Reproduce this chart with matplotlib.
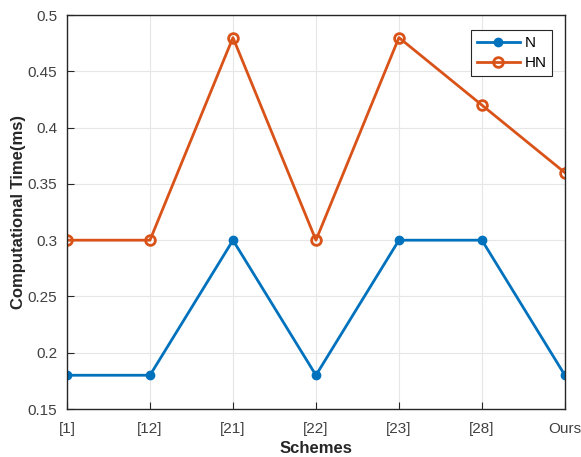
import matplotlib
matplotlib.use("Agg")
import matplotlib.pyplot as plt

categories = ["[1]", "[12]", "[21]", "[22]", "[23]", "[28]", "Ours"]
n_values = [0.18, 0.18, 0.30, 0.18, 0.30, 0.30, 0.18]
hn_values = [0.30, 0.30, 0.48, 0.30, 0.48, 0.42, 0.36]
yticks = [0.15, 0.2, 0.25, 0.3, 0.35, 0.4, 0.45, 0.5]
ytick_labels = ["0.15", "0.2", "0.25", "0.3", "0.35", "0.4", "0.45", "0.5"]

plt.rcParams['font.family'] = ['Liberation Sans', 'DejaVu Sans']

fig = plt.figure(figsize=(5.81, 4.57), dpi=100)
ax = fig.add_axes([0.1153, 0.105, 0.857, 0.862])

x = list(range(len(categories)))
ax.plot(x, n_values, color="#0072BD", lw=2, marker="o", ms=6, label="N")
ax.plot(x, hn_values, color="#D95319", lw=2, marker="o", ms=7, mfc="none", mew=2, label="HN")

ax.set_xlim(0, len(categories) - 1)
ax.set_ylim(0.15, 0.5)
ax.set_xticks(x)
ax.set_xticklabels(categories)
ax.set_yticks(yticks)
ax.set_yticklabels(ytick_labels)
ax.grid(True, color="#e6e6e6", lw=0.8)
ax.set_axisbelow(True)
for s in ax.spines.values():
    s.set_linewidth(1.0)
    s.set_color("#262626")
ax.tick_params(direction="in", length=5, labelsize=11, colors="#262626", labelcolor="#404040")
ax.tick_params(axis="x", pad=9)
ax.tick_params(axis="y", pad=7)
ax.set_xlabel("Schemes", fontsize=12, fontweight="bold", color="#262626", labelpad=4)
ax.set_ylabel("Computational Time(ms)", fontsize=12, fontweight="bold", color="#262626", labelpad=1)

leg = ax.legend(loc="upper right", bbox_to_anchor=(0.975, 0.962), borderaxespad=0, fontsize=11,
                fancybox=False, edgecolor="#262626", framealpha=1, handlelength=2.8, borderpad=0.4,
                labelspacing=0.4, handletextpad=0.3)
leg.get_frame().set_linewidth(0.8)

fig.savefig("out.png", dpi=100)
